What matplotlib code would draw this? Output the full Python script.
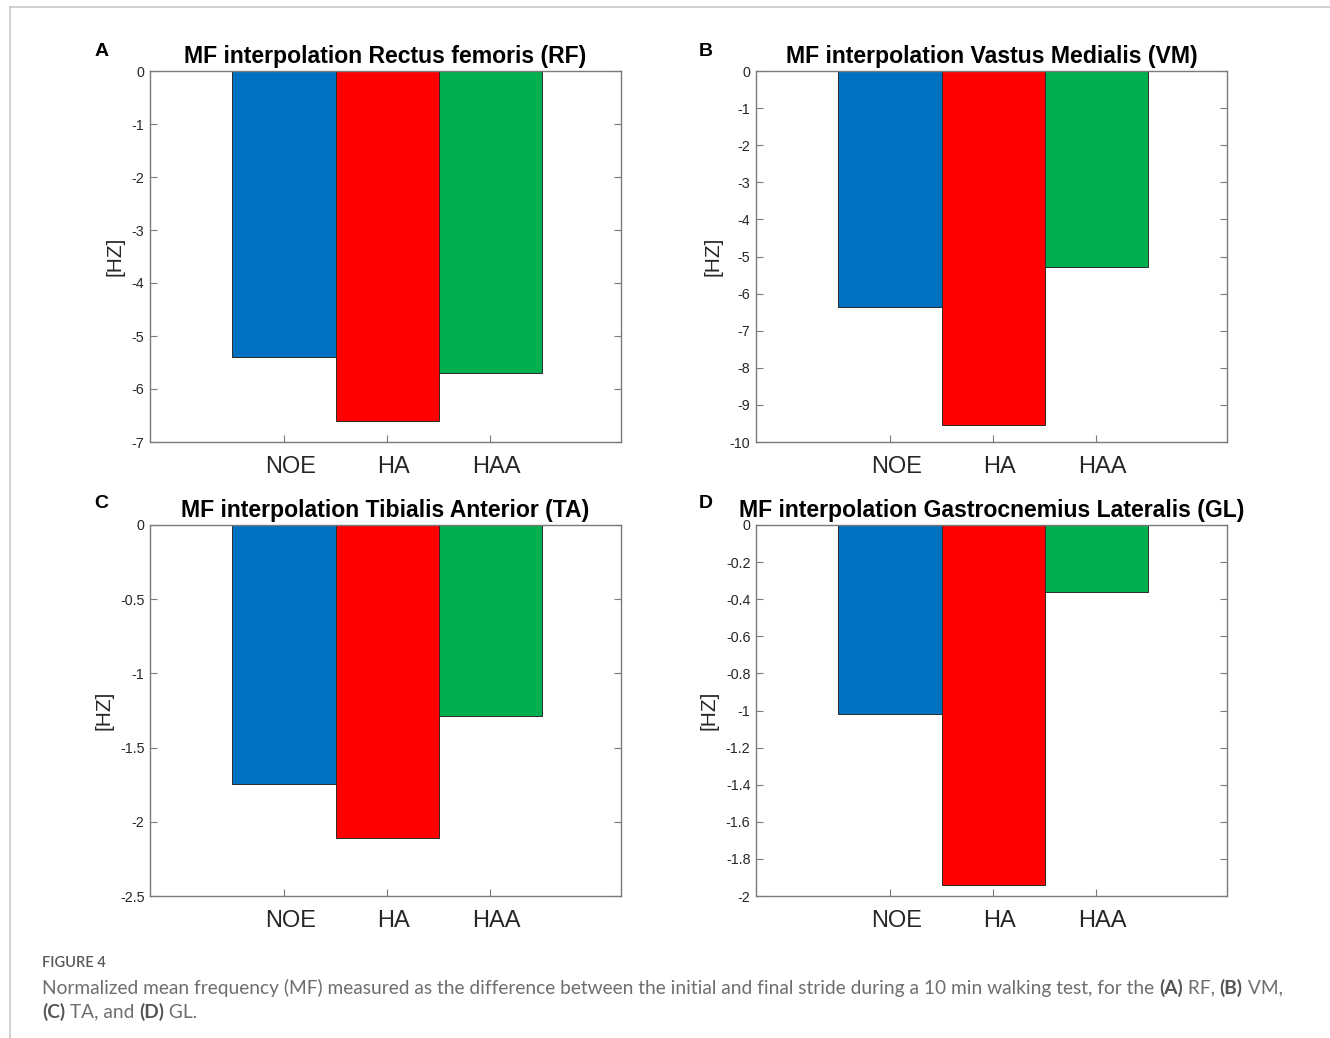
import matplotlib
matplotlib.use("Agg")
import matplotlib.pyplot as plt
from matplotlib.lines import Line2D

# ---- data ----
groups = ["NOE", "HA", "HAA"]
rf_values = [-5.40, -6.60, -5.70]
vm_values = [-6.35, -9.55, -5.28]
ta_values = [-1.745, -2.11, -1.29]
gl_values = [-1.02, -1.94, -0.36]

panel_letters = ["A", "B", "C", "D"]
panel_titles = [
    "MF interpolation Rectus femoris (RF)",
    "MF interpolation Vastus Medialis (VM)",
    "MF interpolation Tibialis Anterior (TA)",
    "MF interpolation Gastrocnemius Lateralis (GL)",
]
y_ranges = [(-7, 0), (-10, 0), (-2.5, 0), (-2, 0)]
y_ticks = [
    [-7, -6, -5, -4, -3, -2, -1, 0],
    [-10, -9, -8, -7, -6, -5, -4, -3, -2, -1, 0],
    [-2.5, -2, -1.5, -1, -0.5, 0],
    [-2, -1.8, -1.6, -1.4, -1.2, -1, -0.8, -0.6, -0.4, -0.2, 0],
]
y_tick_labels = [
    ["-7", "-6", "-5", "-4", "-3", "-2", "-1", "0"],
    ["-10", "-9", "-8", "-7", "-6", "-5", "-4", "-3", "-2", "-1", "0"],
    ["-2.5", "-2", "-1.5", "-1", "-0.5", "0"],
    ["-2", "-1.8", "-1.6", "-1.4", "-1.2", "-1", "-0.8", "-0.6", "-0.4", "-0.2", "0"],
]
bar_colors = ["#0070C0", "#FF0000", "#00B050"]

W, H = 1330, 1038
fig = plt.figure(figsize=(W / 100, H / 100), dpi=100)
fig.patch.set_facecolor("white")

chart_font = "Liberation Sans"
axis_gray = "#7a7a7a"
text_dark = "#262626"

# axes boxes in pixels: (left, top, width, height)
boxes = [(150, 71, 471, 371), (756, 71, 471, 371),
         (150, 525, 471, 371), (756, 525, 471, 371)]
letter_pos = [(102, 51), (706, 51), (101, 504), (706, 504)]
all_values = [rf_values, vm_values, ta_values, gl_values]

x_pos = [1, 2, 3]
label_shift = 0.06  # group names sit a little right of the tick marks
for i, (l, t, w, h) in enumerate(boxes):
    ax = fig.add_axes([l / W, 1 - (t + h) / H, w / W, h / H])
    ax.bar(x_pos, all_values[i], width=1.0, color=bar_colors,
           edgecolor="#2a2a2a", linewidth=0.7, zorder=2)
    ax.set_xlim(-0.30, 4.27)
    ax.set_ylim(*y_ranges[i])
    ax.set_yticks(y_ticks[i])
    ax.set_yticklabels(y_tick_labels[i], fontfamily=chart_font,
                       fontsize=10.3, color=text_dark)
    ax.set_xticks(x_pos)
    ax.set_xticklabels([])
    ax.set_xticks([p + label_shift for p in x_pos], minor=True)
    ax.set_xticklabels(groups, minor=True, fontfamily=chart_font,
                       fontsize=17, color=text_dark)
    ax.tick_params(axis="x", which="minor", length=0, pad=10,
                   top=False, bottom=False)
    ax.tick_params(axis="both", which="major", direction="in", length=5,
                   width=0.8, color=axis_gray, top=True, right=True)
    ax.tick_params(axis="y", pad=4)
    for sp in ax.spines.values():
        sp.set_color(axis_gray)
        sp.set_linewidth(1.0)
    ax.set_ylabel("[HZ]", fontfamily=chart_font, fontsize=15,
                  color=text_dark, labelpad=5)
    ax.set_title(panel_titles[i], fontfamily=chart_font, fontsize=16.6,
                 fontweight="bold", color="black", pad=6)
    lx, ly = letter_pos[i]
    fig.text(lx / W, 1 - ly / H, panel_letters[i], fontfamily=chart_font,
             fontsize=14, fontweight="bold", ha="center", va="center")

# page frame lines
fig.add_artist(Line2D([10 / W, 1], [1 - 7 / H, 1 - 7 / H], color="#c8c8c8",
                      linewidth=1.2))
fig.add_artist(Line2D([10 / W, 10 / W], [0, 1 - 7 / H], color="#c8c8c8",
                      linewidth=1.2))

# ---- caption ----
cap_font = "Lato"
fig.text(42 / W, 1 - 963 / H, "FIGURE 4", fontfamily=cap_font, fontsize=10.5,
         fontweight="semibold", color="#5a5a5a", va="center")

renderer = fig.canvas.get_renderer()


def draw_runs(x_px, y_px, runs, size=13.8):
    x = x_px
    for txt, bold in runs:
        t = fig.text(x / W, 1 - y_px / H, txt, fontfamily=cap_font,
                     fontsize=size, fontweight="bold" if bold else "normal",
                     color="#555555" if bold else "#6e6e6e", va="center")
        bb = t.get_window_extent(renderer=renderer)
        x += bb.width


line1 = [("Normalized mean frequency (MF) measured as the difference between the "
          "initial and final stride during a 10 min walking test, for the ", False),
         ("(A)", True), (" RF, ", False), ("(B)", True), (" VM,", False)]
line2 = [("(C)", True), (" TA, and ", False), ("(D)", True), (" GL.", False)]
draw_runs(42, 988, line1)
draw_runs(42, 1012, line2)

fig.savefig("out.png", dpi=100, facecolor="white")
